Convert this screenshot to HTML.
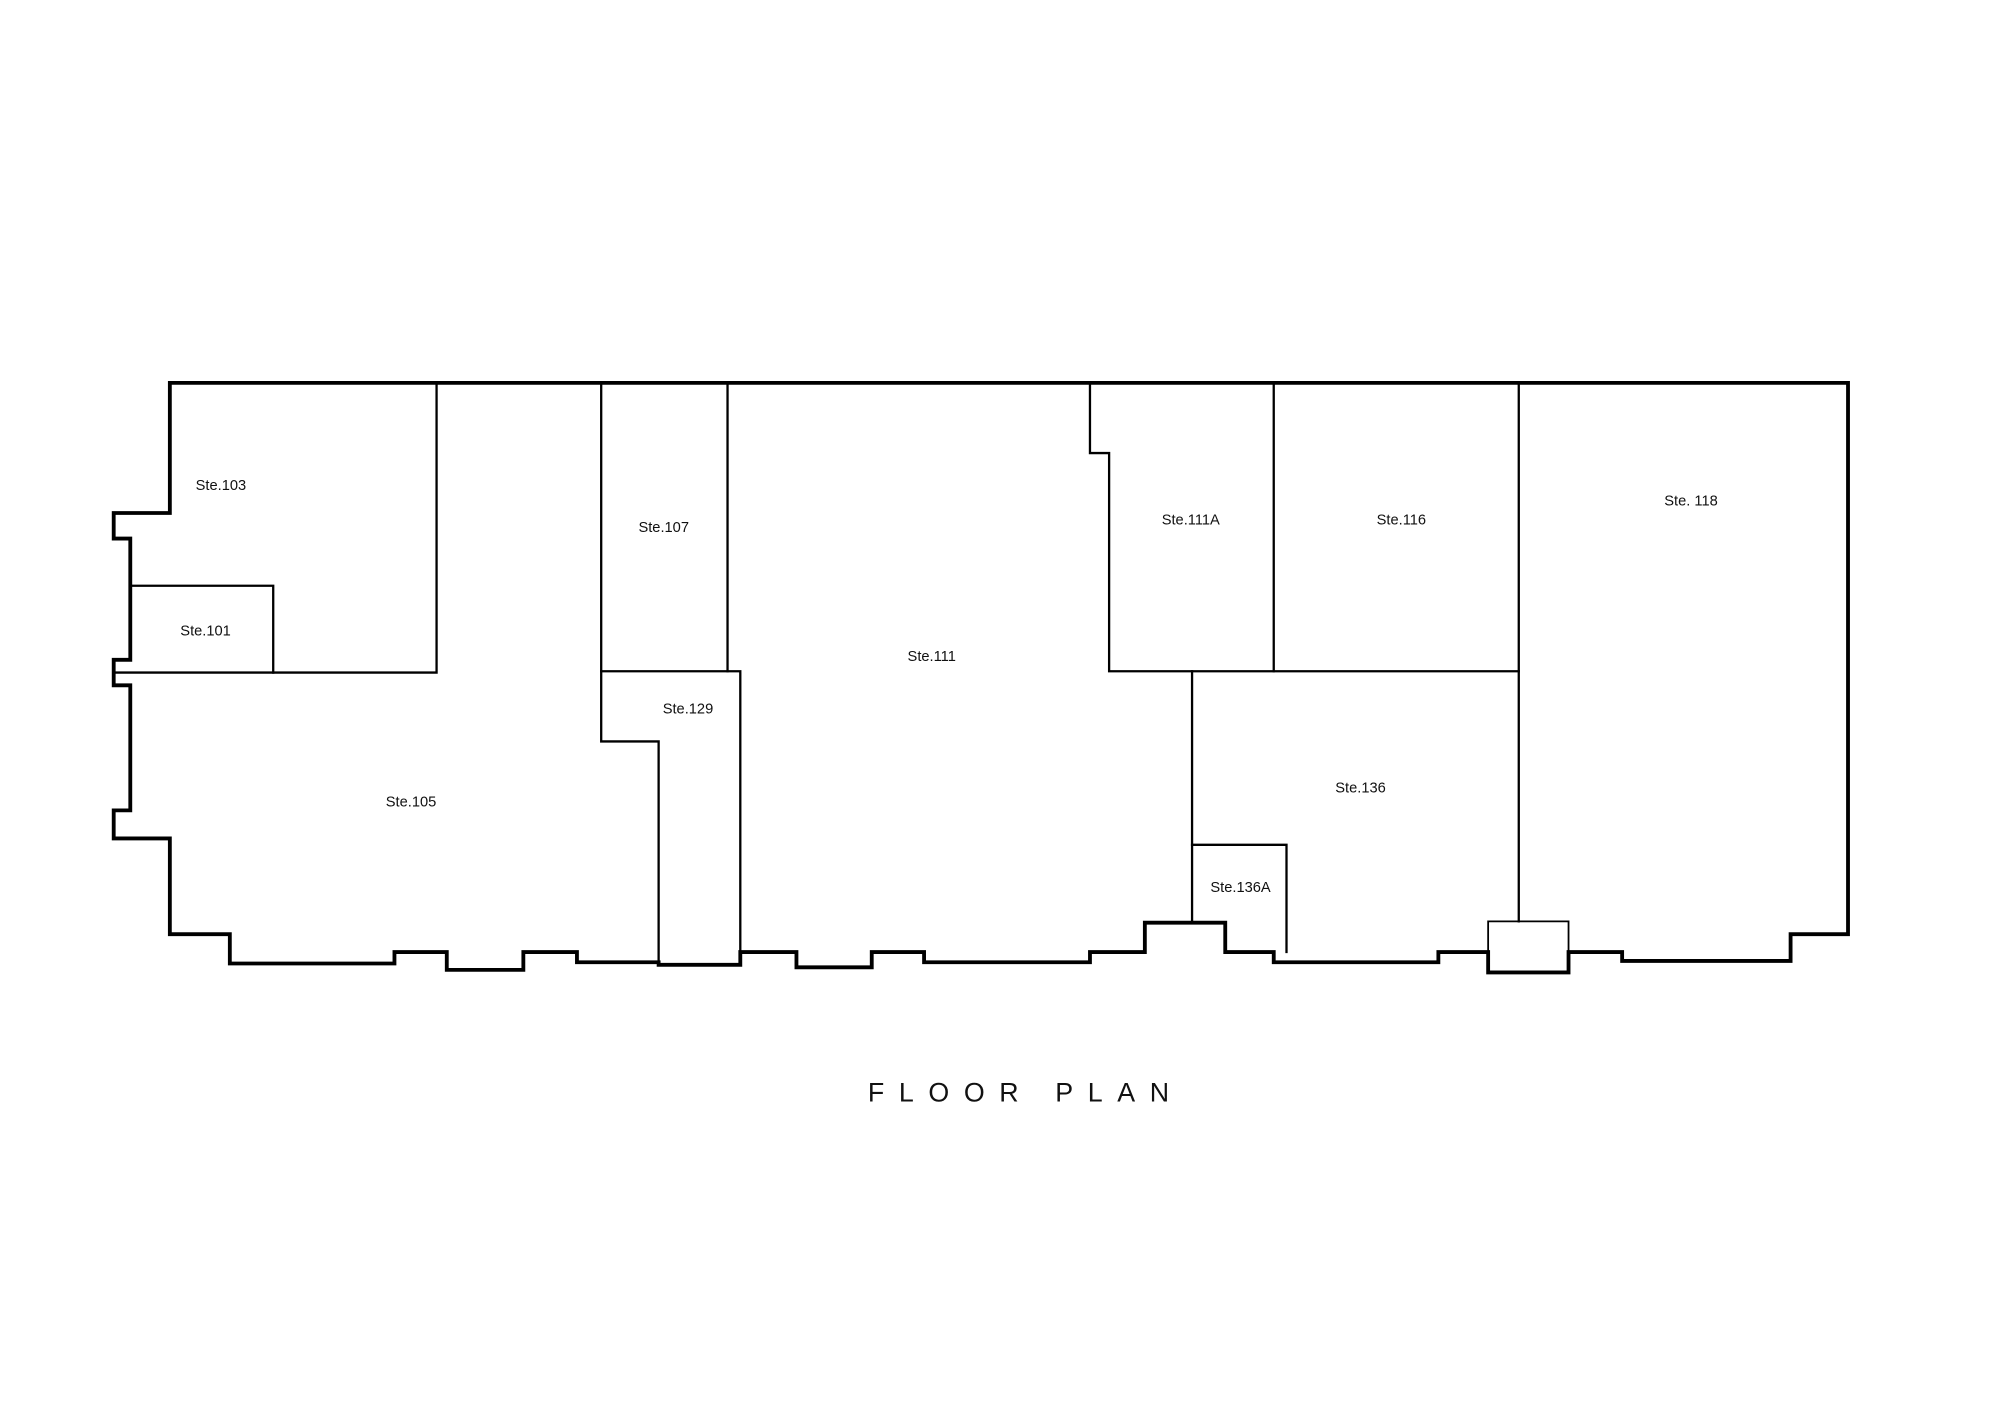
<!DOCTYPE html>
<html><head><meta charset="utf-8"><style>
html,body{margin:0;padding:0;background:#fff;}
svg{display:block;}
text{font-family:"Liberation Sans",Arial,sans-serif;fill:#111;}
</style></head><body>
<svg width="2000" height="1414" viewBox="0 0 1567 1108" xmlns="http://www.w3.org/2000/svg">
<rect width="1567" height="1108" fill="#fff"/>
<g fill="none" stroke="#000" stroke-linejoin="miter" stroke-linecap="square">
<path stroke-width="3" d="M133,300 L1448,300 L1448,732 L1403,732 L1403,753 L1271,753 L1271,746 L1229,746 L1229,762 L1166,762 L1166,746 L1127,746 L1127,754 L998,754 L998,746 L960,746 L960,723 L897,723 L897,746 L854,746 L854,754 L724,754 L724,746 L683,746 L683,758 L624,758 L624,746 L580,746 L580,756 L516,756 L516,754 L452,754 L452,746 L410,746 L410,760 L350,760 L350,746 L309,746 L309,755 L180,755 L180,732 L133,732 L133,657 L89,657 L89,635 L102,635 L102,537 L89,537 L89,517 L102,517 L102,422 L89,422 L89,402 L133,402 Z"/>
<g stroke-width="1.8">
<path d="M89,527 L342,527 L342,300"/>
<path d="M102,459 L214,459 L214,527"/>
<path d="M471,300 L471,581 L516,581 L516,755"/>
<path d="M570,300 L570,526"/>
<path d="M471,526 L580,526 L580,756"/>
<path d="M854,300 L854,355 L869,355 L869,526 L1190,526"/>
<path d="M998,300 L998,526"/>
<path d="M1190,300 L1190,722"/>
<path d="M934,526 L934,723"/>
<path d="M934,662 L1008,662 L1008,746"/>
</g>
<path stroke-width="1.4" d="M1166,746 L1166,722 L1229,722 L1229,746"/>
</g>
<g font-size="11.5" text-anchor="middle">
<text x="173" y="384">Ste.103</text>
<text x="161" y="498">Ste.101</text>
<text x="520" y="417">Ste.107</text>
<text x="539" y="559">Ste.129</text>
<text x="322" y="632">Ste.105</text>
<text x="730" y="518">Ste.111</text>
<text x="933" y="411">Ste.111A</text>
<text x="1098" y="411">Ste.116</text>
<text x="1325" y="396">Ste. 118</text>
<text x="1066" y="621">Ste.136</text>
<text x="972" y="699">Ste.136A</text>
</g>
<text x="680" y="863" font-size="21" textLength="236" lengthAdjust="spacing" xml:space="preserve">FLOOR PLAN</text>
</svg>
</body></html>
